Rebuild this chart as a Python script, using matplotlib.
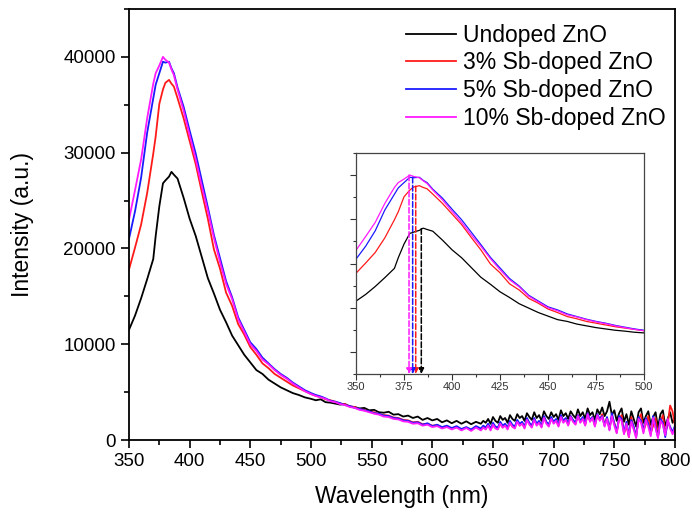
#!/usr/bin/env python3

import matplotlib
matplotlib.use('Agg')
import matplotlib.pylab as plt
from matplotlib.ticker import MultipleLocator

plt.rcParams['font.family'] = ['Liberation Sans', 'DejaVu Sans']

# wavelength grid (nm): denser near the peak and in the noisy tail
wl_peak = [350, 355, 360, 365, 370, 372, 375, 378, 380, 383, 385, 387, 390,
           395, 400, 405, 410, 415, 420, 425, 430, 435, 440, 445, 450, 455,
           460, 465, 470, 475, 480, 485, 490, 495]
wl_mid = list(range(500, 640, 4))
wl_tail = list(range(640, 801, 2))
wavelength = wl_peak + wl_mid + wl_tail

undoped = [11500, 13000, 14800, 16800, 18900, 21300, 24400, 26800, 27100, 27500,
           28000, 27700, 27300, 25300, 23100, 21300, 19100, 16900, 15300, 13600,
           12300, 10900, 9900, 8900, 8100, 7300, 6900, 6300, 5900, 5500,
           5200, 4900, 4700, 4450,
           4300, 4150, 4250, 3950, 3900, 3800, 3700, 3750, 3500, 3450,
           3300, 3350, 3100, 3150, 2900, 2850, 2950, 2650, 2700, 2450,
           2550, 2300, 2450, 2100, 2300, 2050, 2200, 1850, 2050, 1750,
           2000, 1700, 1950, 1650, 1900,
           1700, 2000, 1800, 2200, 1700, 2400, 2000, 1800, 2500, 2100,
           2300, 1800, 2600, 2200, 2000, 2700, 2300, 2500, 2000, 2800,
           2400, 2100, 2900, 2300, 2600, 2000, 3000, 2500, 2200, 2900,
           2400, 2700, 2100, 3100, 2500, 2800, 2200, 3000, 2600, 2300,
           3200, 2500, 2900, 2200, 3300, 2600, 2900, 2100, 3200, 2700,
           3400, 2500, 3000, 4000, 2600, 3100, 2000, 2800, 3300, 1900,
           2700, 1600, 3000, 2200, 1400, 2900, 3300, 1800, 2500, 3000,
           1600, 2400, 2900, 1300, 2700, 3100, 1500, 2200, 2900, 1800, 2300]

sb3 = [17800, 20100, 22500, 25800, 29900, 31700, 35100, 36600, 37300, 37600,
       37200, 36900, 35700, 33600, 31200, 28800, 25900, 23100, 19900, 17900,
       15400, 14000, 12100, 11000, 9700, 8900, 8000, 7500, 6900, 6500,
       6100, 5700, 5400, 5100,
       4800, 4600, 4500, 4250, 4150, 4000, 3800, 3750, 3500, 3450,
       3200, 3150, 2950, 2900, 2700, 2600, 2550, 2350, 2300, 2100,
       2050, 1850, 1900, 1650, 1700, 1500, 1550, 1300, 1450, 1200,
       1350, 1100, 1300, 1050, 1400,
       1100, 1400, 1200, 1600, 1100, 1500, 1300, 1200, 1700, 1300,
       1600, 1200, 1800, 1400, 1300, 2000, 1500, 1800, 1300, 2100,
       1700, 1400, 2200, 1600, 1900, 1400, 2400, 1800, 1500, 2300,
       1800, 2100, 1500, 2500, 1900, 2200, 1600, 2500, 2000, 1700,
       2600, 1900, 2300, 1600, 2700, 2000, 2400, 1500, 2600, 2100,
       2700, 1600, 2300, 1200, 2500, 1800, 800, 2200, 2600, 700,
       1500, 300, 2400, 1200, 500, 2200, 2700, 900, 1700, 2500,
       700, 1500, 2300, 400, 1900, 2600, 800, 1600, 3600, 3000, 1500]

sb5 = [21000, 23900, 27400, 32100, 35700, 37100, 38300, 39500, 39400, 39500,
       38800, 38300, 36800, 34800, 32300, 29900, 27100, 24300, 21400, 19000,
       16600, 14900, 12800, 11500, 10200, 9500, 8600, 8000, 7400, 6900,
       6500, 6000, 5600, 5200,
       4900, 4700, 4550, 4350, 4100, 4000, 3850, 3650, 3550, 3350,
       3250, 3100, 3000, 2800, 2750, 2550, 2500, 2300, 2250, 2050,
       2000, 1800, 1850, 1600, 1750, 1450, 1600, 1350, 1500, 1250,
       1450, 1150, 1350, 1100, 1450,
       1200, 1500, 1300, 1700, 1200, 1800, 1400, 1300, 1900, 1500,
       1700, 1300, 2000, 1600, 1400, 2100, 1700, 1900, 1400, 2300,
       1800, 1500, 2300, 1700, 2000, 1500, 2500, 1900, 1600, 2400,
       1900, 2200, 1600, 2600, 2000, 2300, 1700, 2500, 2100, 1800,
       2600, 2000, 2400, 1700, 2800, 2100, 2400, 1600, 2700, 2200,
       2500, 1500, 2400, 1100, 2800, 1700, 900, 2500, 2200, 800,
       1900, 500, 2100, 1400, 300, 2400, 2000, 1000, 2300, 1700,
       600, 2500, 1400, 300, 2200, 1800, 300, 2000, 1400, 800, 1500]

sb10 = [23000, 26100, 29300, 33600, 37200, 38300, 39100, 40000, 39700, 39400,
        38700, 38100, 36600, 34400, 31800, 29300, 26500, 23900, 21100, 18600,
        16300, 14700, 12600, 11300, 10000, 9300, 8400, 7900, 7300, 6800,
        6400, 5900, 5500, 5100,
        4800, 4600, 4450, 4300, 4050, 3950, 3750, 3650, 3450, 3350,
        3150, 3050, 2900, 2750, 2650, 2450, 2400, 2200, 2150, 1950,
        1900, 1700, 1750, 1500, 1600, 1350, 1450, 1200, 1350, 1100,
        1300, 1000, 1250, 950, 1300,
        1000, 1300, 1100, 1500, 1000, 1600, 1200, 1100, 1700, 1300,
        1500, 1100, 1800, 1400, 1200, 1900, 1500, 1700, 1200, 2100,
        1600, 1300, 2100, 1500, 1800, 1300, 2300, 1700, 1400, 2200,
        1700, 2000, 1400, 2400, 1800, 2100, 1500, 2400, 1900, 1600,
        2500, 1800, 2200, 1500, 2700, 1900, 2300, 1400, 2600, 2000,
        2400, 1400, 2200, 1000, 2500, 1500, 700, 2300, 2000, 600,
        1700, 300, 1900, 1100, 200, 2200, 1800, 700, 2100, 1400,
        400, 2300, 1200, 200, 2000, 1600, 500, 2200, 1200, 600, 1300]

labels = ['Undoped ZnO', '3% Sb-doped ZnO', '5% Sb-doped ZnO', '10% Sb-doped ZnO']
colors = ['black', '#ff1a1a', '#1a1aff', '#ff1aff']
series = [undoped, sb3, sb5, sb10]

# peak positions marked in the inset
peak_wl = [384.0, 381.1, 379.5, 377.6]
peak_int = [27900, 37500, 39500, 40000]

fig = plt.figure(figsize=(6.92, 5.12), dpi=100)
ax = fig.add_axes([0.1864, 0.1406, 0.789, 0.8418])

for y, c, lab in zip(series, colors, labels):
    ax.plot(wavelength, y, color=c, lw=1.3, label=lab)

ax.set_xlim(350, 800)
ax.set_ylim(0, 45000)
ax.xaxis.set_major_locator(MultipleLocator(50))
ax.xaxis.set_minor_locator(MultipleLocator(25))
ax.yaxis.set_major_locator(MultipleLocator(10000))
ax.yaxis.set_minor_locator(MultipleLocator(5000))
ax.tick_params(which='both', direction='out', top=False, right=False,
               labelsize=13.5, width=1.2)
ax.tick_params(which='major', length=6)
ax.tick_params(which='minor', length=3.5)
for sp in ax.spines.values():
    sp.set_linewidth(1.3)
ax.set_xlabel('Wavelength (nm)', fontsize=16.5, labelpad=11)
ax.set_ylabel('Intensity (a.u.)', fontsize=16.5, labelpad=21)

leg = ax.legend(loc='upper right', frameon=False, fontsize=16.5,
                handlelength=2.2, handletextpad=0.3, labelspacing=0.2,
                borderaxespad=0, bbox_to_anchor=(1.0, 0.987))
for line in leg.get_lines():
    line.set_linewidth(1.3)

# inset: zoom on the band-edge emission
ins = fig.add_axes([0.5145, 0.2695, 0.4161, 0.4317])
for y, c in zip(series, colors):
    ins.plot(wavelength, y, color=c, lw=0.9)

for xp, yp, c in zip(peak_wl, peak_int, colors):
    ins.annotate('', xy=(xp, -5000), xytext=(xp, yp),
                 arrowprops=dict(arrowstyle='-|>', color=c, lw=1.1,
                                 linestyle='--', mutation_scale=8,
                                 shrinkA=0, shrinkB=0))

ins.set_xlim(350, 500)
ins.set_ylim(-5000, 45000)
ins.xaxis.set_major_locator(MultipleLocator(25))
ins.xaxis.set_minor_locator(MultipleLocator(12.5))
ins.yaxis.set_major_locator(MultipleLocator(10000))
ins.yaxis.set_minor_locator(MultipleLocator(5000))
ins.set_yticklabels([])
ins.tick_params(which='both', direction='out', top=False, right=False,
                labelsize=8, width=0.8, colors='#333333', pad=2)
ins.tick_params(which='major', length=4)
ins.tick_params(which='minor', length=2.5)
for sp in ins.spines.values():
    sp.set_linewidth(0.9)
    sp.set_color('#444444')

fig.savefig('out.png', dpi=100)
